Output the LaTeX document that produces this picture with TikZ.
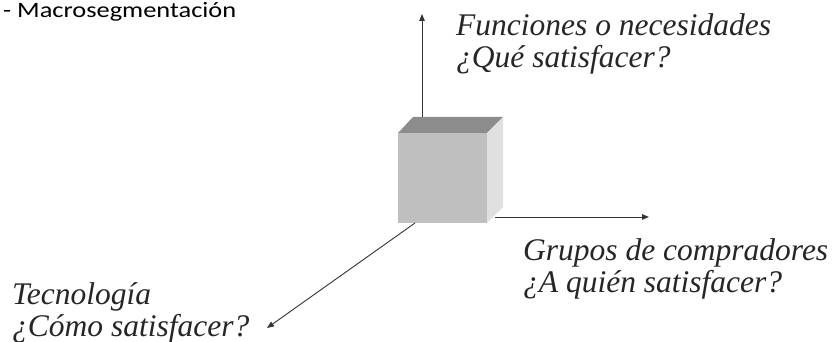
\documentclass[tikz,border=0pt]{standalone}
\usepackage{fontspec}
\setmainfont{Liberation Serif}
\newfontfamily\axisfont{Liberation Serif}[UprightFont=*,ItalicFont=* Italic]
\newfontfamily\titlefont{Carlito}
\usetikzlibrary{arrows.meta}
\colorlet{cubefront}{black!25}
\colorlet{cubetop}{black!45}
\colorlet{cubeside}{black!12}

\begin{document}
\begin{tikzpicture}[x=1pt,y=-1pt,
    axislabel/.style={anchor=north west,align=left,inner sep=0pt,
      font=\axisfont\fontsize{31.5}{32}\selectfont\itshape,text=black!85},
    axis/.style={draw=black!80,line width=0.9pt,-{Triangle[length=7pt,width=5.5pt]}}]

      \useasboundingbox (0,0) rectangle (835,342);

      \node [anchor=base west,inner sep=0pt,font=\titlefont\fontsize{22}{24}\selectfont] (titulo) at (3,18) {\scalebox{1.2}[1]{- Macrosegmentación}};

      % cube
      \fill [cubefront] (398,133) rectangle (487,223);
      \fill [cubetop] (398,133) -- (413,117) -- (503,117) -- (487,133) -- cycle;
      \fill [cubeside] (487,133) -- (503,117) -- (503,207) -- (487,223) -- cycle;

      \coordinate (ytail) at (422,117);
      \coordinate (yhead) at (422,14);
      \coordinate (xtail) at (495,217);
      \coordinate (xhead) at (649,217);
      \coordinate (ztail) at (415,223);
      \coordinate (zhead) at (267,328);

      \draw [axis] (ytail) -- (yhead);
      \draw [axis] (xtail) -- (xhead);
      \draw [axis] (ztail) -- (zhead);

      \node [axislabel] (funciones) at (456,13) {Funciones o necesidades\\¿Qué satisfacer?};
      \node [axislabel] (grupos) at (523,238) {Grupos de compradores\\¿A quién satisfacer?};
      \node [axislabel] (tecnologia) at (12,282) {Tecnología\\¿Cómo satisfacer?};

    \end{tikzpicture}
\end{document}
